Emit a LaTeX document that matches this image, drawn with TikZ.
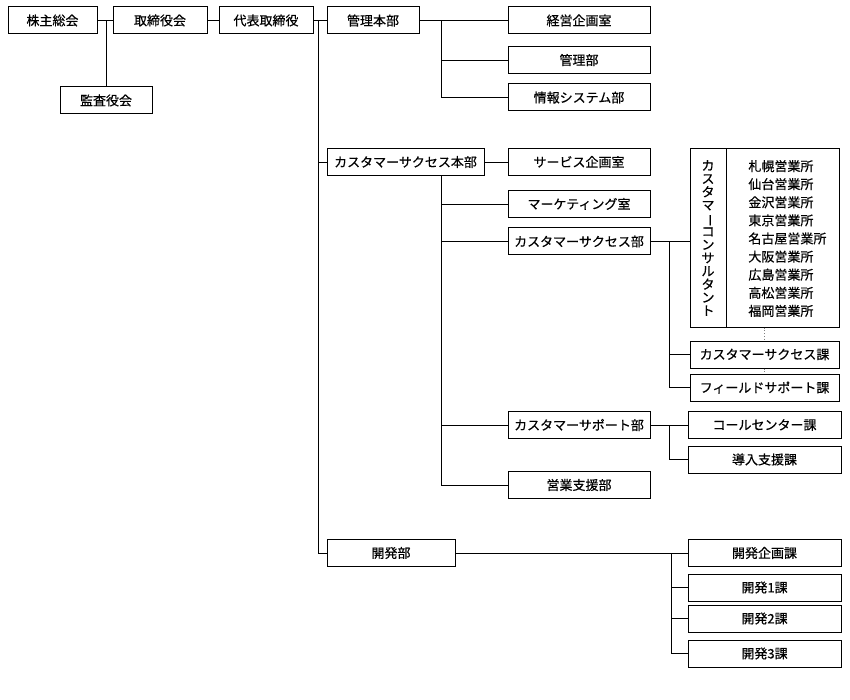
\documentclass[tikz,border=0pt]{standalone}
\usepackage{fontspec}
\setmainfont{Noto Sans CJK JP}[FakeBold=0.5]
\usepackage{graphicx}
\begin{document}
\begin{tikzpicture}[
        x=1pt,y=-1pt,
        line width=0.8pt,
        every node/.style={font=\fontsize{13}{15}\selectfont}
    ]
    \tikzset {
        orgnode/.style = {draw=black, line width=1pt, align=center, minimum height=27pt, inner sep=0pt, minimum width=#1},
        orgnode/.default = 92pt,
    }
    \useasboundingbox (0,0) rectangle (850,700);
    \node [orgnode=89pt] (kabu) at (52.5,20.5) {株主総会};
    \node [orgnode=94pt] (torishimari) at (160,20.5) {取締役会};
    \node [orgnode=94pt] (daihyo) at (266,20.5) {代表取締役};
    \node [orgnode=92pt] (kansa) at (106,100.5) {監査役会};
    \node [orgnode=92pt] (kanri) at (373,20.5) {管理本部};
    \node [orgnode=142pt] (keiei) at (579,20.5) {経営企画室};
    \node [orgnode=142pt] (kanribu) at (579,60) {管理部};
    \node [orgnode=142pt] (joho) at (579,97.5) {情報システム部};
    \node [orgnode=157pt] (csh) at (405.5,162) {カスタマーサクセス本部};
    \node [orgnode=142pt] (service) at (579,162) {サービス企画室};
    \node [orgnode=142pt] (marketing) at (579,204) {マーケティング室};
    \node [orgnode=142pt] (csbu) at (579,241.5) {カスタマーサクセス部};
    \node [orgnode=142pt] (supportbu) at (579,425) {カスタマーサポート部};
    \node [orgnode=142pt] (eigyo) at (579,485) {営業支援部};
    \node [orgnode=149pt, minimum height=178pt] (consult) at (764.5,238) {};
    \node [inner sep=0pt, align=center, font=\fontsize{13}{13.2}\selectfont] (ccname) at ([xshift=18.5pt]consult.west)
        {カ\\ス\\タ\\マ\\\rotatebox[origin=c]{-90}{ー}\\コ\\ン\\サ\\ル\\タ\\ン\\ト};
    \node [inner sep=0pt, align=left, anchor=west, font=\fontsize{13}{18.1}\selectfont] (offices) at (748,238.5)
        {札幌営業所\\仙台営業所\\金沢営業所\\東京営業所\\名古屋営業所\\大阪営業所\\広島営業所\\高松営業所\\福岡営業所};
    \node [orgnode=149pt] (csk) at (764.5,354.5) {カスタマーサクセス課};
    \node [orgnode=149pt] (field) at (764.5,387.5) {フィールドサポート課};
    \node [orgnode=153pt] (callc) at (764.5,425) {コールセンター課};
    \node [orgnode=153pt] (donyu) at (764.5,459.5) {導入支援課};
    \node [orgnode=128pt] (kaihatsu) at (391,553) {開発部};
    \node [orgnode=153pt] (kplan) at (764.5,553) {開発企画課};
    \node [orgnode=153pt] (k1) at (764.5,587.5) {開発1課};
    \node [orgnode=153pt] (k2) at (764.5,618.5) {開発2課};
    \node [orgnode=153pt] (k3) at (764.5,653.5) {開発3課};
    \coordinate (trunk) at (318,20.5);
    \coordinate (kbus) at (441,20.5);
    \coordinate (sbus) at (669,241.5);
    \coordinate (pbus) at (669,425);
    \coordinate (dbus) at (671,553);
    \draw ([xshift=37pt]consult.north west) -- ([xshift=37pt]consult.south west);
    \draw (kabu) -- (torishimari);
    \draw (kansa.north) -- (kansa.north |- kabu.east);
    \draw (torishimari) -- (daihyo);
    \draw (daihyo) -- (kanri);
    \draw (trunk) |- (kaihatsu.west);
    \draw (trunk |- csh.west) -- (csh.west);
    \draw (kanri) -- (keiei);
    \draw (kbus) |- (joho.west);
    \draw (kbus |- kanribu.west) -- (kanribu.west);
    \draw (csh) -- (service);
    \draw (csh.south -| kbus) |- (eigyo.west);
    \draw (marketing.west -| kbus) -- (marketing.west);
    \draw (csbu.west -| kbus) -- (csbu.west);
    \draw (supportbu.west -| kbus) -- (supportbu.west);
    \draw (csbu.east) -- (consult.west |- csbu.east);
    \draw (sbus) |- (field.west);
    \draw (sbus |- csk.west) -- (csk.west);
    \draw [dotted, gray] (consult.south) -- (csk.north);
    \draw [dotted, gray] (csk.south) -- (field.north);
    \draw (supportbu) -- (callc);
    \draw (pbus) |- (donyu.west);
    \draw (kaihatsu) -- (kplan);
    \draw (dbus) |- (k3.west);
    \draw (dbus |- k1.west) -- (k1.west);
    \draw (dbus |- k2.west) -- (k2.west);
\end{tikzpicture}
\end{document}
